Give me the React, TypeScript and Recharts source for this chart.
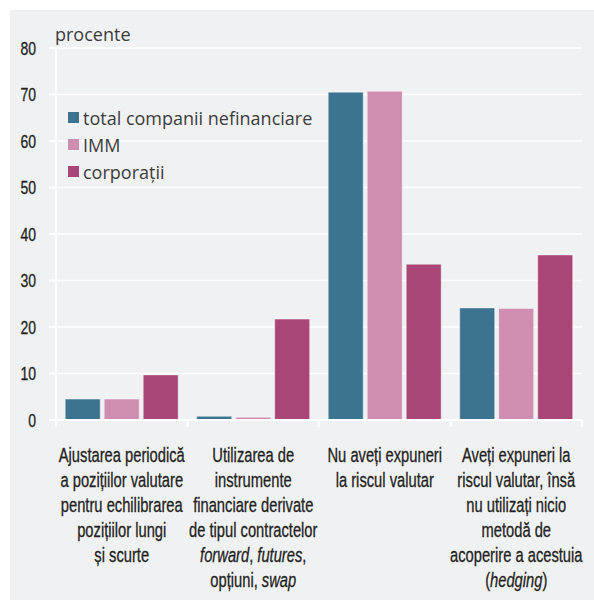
import React from 'react';
import { BarChart, Bar, XAxis, YAxis, CartesianGrid } from 'recharts';

const categories = ['ajustare', 'derivate', 'fara_expunere', 'fara_acoperire'];
const categoryLines: string[][] = [
  ['Ajustarea periodică', 'a pozițiilor valutare', 'pentru echilibrarea', 'pozițiilor lungi', 'și scurte'],
  ['Utilizarea de', 'instrumente', 'financiare derivate', 'de tipul contractelor', '*forward*, *futures*,', 'opțiuni, *swap*'],
  ['Nu aveți expuneri', 'la riscul valutar'],
  ['Aveți expuneri la', 'riscul valutar, însă', 'nu utilizați nicio', 'metodă de', 'acoperire a acestuia', '(*hedging*)'],
];
const totalCompanii = [4.5, 0.8, 70.5, 24.1];
const imm = [4.5, 0.6, 70.7, 24.0];
const corporatii = [9.7, 21.7, 33.5, 35.5];
const yTicks = [0, 10, 20, 30, 40, 50, 60, 70, 80];
const seriesKeys = ['total', 'imm', 'corp'];
const seriesNames = ['total companii nefinanciare', 'IMM', 'corporații'];
const seriesColors = ['#3b7391', '#cf8db0', '#aa4677'];
const unitLabel = 'procente';

const data = categories.map((c, i) => ({
  cat: c,
  total: totalCompanii[i],
  imm: imm[i],
  corp: corporatii[i],
}));

const NARROW = '"Liberation Sans", Arial, sans-serif';
const SANS = '"Open Sans", "Noto Sans", sans-serif';
const HALF_BAND = 65.625;

const renderLine = (ln: string) =>
  ln.split('*').map((part, i) =>
    i % 2 === 1 ? (
      <tspan key={i} fontStyle="italic">{part}</tspan>
    ) : (
      <tspan key={i}>{part}</tspan>
    )
  );

const CatTick = (props: any) => {
  const { x, y, payload } = props;
  const idx = categories.indexOf(payload.value);
  const lines = categoryLines[idx] || [];
  return (
    <g>
      <line x1={x - HALF_BAND} x2={x - HALF_BAND} y1={y} y2={y + 7} stroke="#ffffff" strokeWidth={2} />
      {idx === categories.length - 1 && (
        <line x1={x + HALF_BAND} x2={x + HALF_BAND} y1={y} y2={y + 7} stroke="#ffffff" strokeWidth={2} />
      )}
      <g transform={`translate(${x},${y}) scale(0.755,1)`}>
        <text
          textAnchor="middle"
          fontFamily={NARROW}
          fontSize={19.5}
          fill="#231f20"
          stroke="#231f20"
          strokeWidth={0.3}
        >
          {lines.map((ln, i) => (
            <tspan key={i} x={0} y={42 + i * 25}>
              {renderLine(ln)}
            </tspan>
          ))}
        </text>
      </g>
    </g>
  );
};

const NumTick = (props: any) => {
  const { x, y, payload } = props;
  return (
    <g transform={`translate(${x},${y}) scale(0.8,1)`}>
      <text
        textAnchor="end"
        x={0}
        y={6.5}
        fontFamily={NARROW}
        fontSize={17.5}
        fill="#231f20"
        stroke="#231f20"
        strokeWidth={0.3}
      >
        {payload.value}
      </text>
    </g>
  );
};

export default function App() {
  return (
    <div style={{ position: 'absolute', left: 0, top: 0, width: 594, height: 600, background: '#ffffff' }}>
      <div style={{ position: 'absolute', left: 10, top: 10, width: 584, height: 590, background: '#f0f1f3' }} />
      <div style={{ position: 'absolute', left: 0, top: 0 }}>
        <BarChart
          width={594}
          height={600}
          data={data}
          margin={{ top: 48, right: 12, bottom: 0, left: 0 }}
          barCategoryGap="7%"
          barGap={4}
        >
          <CartesianGrid vertical={false} stroke="#ffffff" strokeWidth={1.5} />
          <XAxis
            dataKey="cat"
            height={180}
            tick={<CatTick />}
            tickLine={false}
            tickSize={0}
            tickMargin={0}
            axisLine={{ stroke: '#ffffff', strokeWidth: 2 }}
            interval={0}
          />
          <YAxis
            width={56}
            domain={[0, 80]}
            ticks={yTicks}
            interval={0}
            tickSize={7}
            tickMargin={13}
            tickLine={{ stroke: '#ffffff', strokeWidth: 2 }}
            axisLine={{ stroke: '#ffffff', strokeWidth: 2 }}
            tick={<NumTick />}
            label={{
              content: () => (
                <text x={55} y={41} fontFamily={SANS} fontSize={18} fill="#3c3c3c">
                  {unitLabel}
                </text>
              ),
            }}
          />
          {seriesKeys.map((k, i) => (
            <Bar
              key={k}
              dataKey={k}
              name={seriesNames[i]}
              fill={seriesColors[i]}
              stroke="rgba(255,255,255,0.45)"
              strokeWidth={1}
              isAnimationActive={false}
            />
          ))}
        </BarChart>
      </div>
      <div style={{ position: 'absolute', left: 68, top: 104, fontFamily: SANS, fontSize: 18, color: '#3c3c3c' }}>
        {seriesNames.map((n, i) => (
          <div key={n} style={{ display: 'flex', alignItems: 'center', height: 27, whiteSpace: 'nowrap' }}>
            <span style={{ display: 'inline-block', width: 11, height: 11, background: seriesColors[i], marginRight: 4 }} />
            <span>{n}</span>
          </div>
        ))}
      </div>
    </div>
  );
}
